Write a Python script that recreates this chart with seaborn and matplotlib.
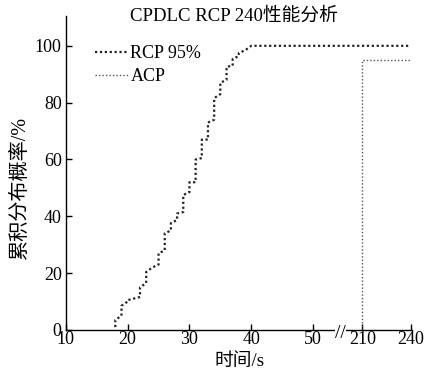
import numpy as np
import pandas as pd
import matplotlib
matplotlib.use("Agg")
import matplotlib.pyplot as plt
import seaborn as sns

# ----- Data -----
rcp_time = [18, 19, 20, 22, 23, 24, 25, 26, 27, 28, 29, 30, 31, 32, 33, 34, 35, 36, 37, 38, 39, 40]
rcp_low = [1, 5, 10, 11.6, 16.5, 22, 23, 28, 35, 38.7, 41.5, 48.5, 52, 60.5, 67, 74, 83, 88, 93, 96.4, 98.4, 100]
rcp_high = [3.5, 8.5, 10.5, 15, 20.4, 22, 27, 34, 37.6, 41, 47.5, 52, 60, 67, 73, 81.6, 87, 92.6, 95.4, 97.5, 98.4, 100]
rcp_tail_time = [50, 210, 240]
rcp_tail_val = [100, 100, 100]

acp_time = [210, 210, 240]
acp_val = [0, 95, 95]

xticks = [10, 20, 30, 40, 50, 210, 240]
yticks = [0, 20, 40, 60, 80, 100]

title = "CPDLC RCP 240性能分析"
xlabel = "时间/s"
ylabel = "累积分布概率/%"

# ----- Style -----
sns.set_style("ticks", {"text.color": "black", "axes.labelcolor": "black",
                        "xtick.color": "black", "ytick.color": "black",
                        "axes.edgecolor": "black"})
fonts = ["Liberation Serif", "Noto Sans CJK SC"]
plt.rcParams["font.family"] = fonts
plt.rcParams["font.size"] = 13


# broken x axis: 10-55 linear, 55-210 squeezed, 210-240 compressed
def fwd(x):
    x = np.asarray(x, dtype=float)
    return np.where(x <= 55, x,
                    np.where(x <= 210, 55 + (x - 55) * 3 / 155, 58 + (x - 210) * 7.8 / 30))


def inv(y):
    y = np.asarray(y, dtype=float)
    return np.where(y <= 55, y,
                    np.where(y <= 58, 55 + (y - 55) * 155 / 3, 210 + (y - 58) * 30 / 7.8))


# RCP step curve: vertical segment at each second
rx, ry = [], []
for t, lo, hi in zip(rcp_time, rcp_low, rcp_high):
    rx += [t, t]
    ry += [lo, hi]
rx += rcp_tail_time
ry += rcp_tail_val
rcp = pd.DataFrame({"t": rx, "p": ry})
acp = pd.DataFrame({"t": acp_time, "p": acp_val})

fig = plt.figure(figsize=(4.25, 3.72), dpi=100)
ax = fig.add_axes([0.155, 0.113, 0.815, 0.844])
ax.set_xscale("function", functions=(fwd, inv))

sns.lineplot(data=rcp, x="t", y="p", estimator=None, sort=False, ax=ax,
             color="#222222", linestyle=(0, (1, 1.2)), linewidth=1.6, label="RCP 95%")
sns.lineplot(data=acp, x="t", y="p", estimator=None, sort=False, ax=ax,
             color="#555555", linestyle=(0, (1, 1.5)), linewidth=1.0, label="ACP")

ymax = 110.5
ax.set_xlim(10, 241)
ax.set_ylim(0, ymax)
ax.set_xticks(xticks)
ax.set_xticklabels([str(v) for v in xticks])
ax.set_yticks(yticks)
ax.tick_params(direction="in", length=4, width=1, labelsize=13)
ax.tick_params(axis="x", pad=1)
ax.tick_params(axis="y", pad=3)
for s in ["top", "right"]:
    ax.spines[s].set_visible(False)
for s in ["left", "bottom"]:
    ax.spines[s].set_linewidth(1)

# break mark on the x axis
ax.text(54.5, -0.01, "//", transform=ax.get_xaxis_transform(), ha="center", va="center",
        fontsize=14, family=fonts, bbox=dict(facecolor="white", edgecolor="none", pad=0.2),
        clip_on=False, zorder=5)

ax.set_xlabel(xlabel, fontsize=13.5, labelpad=3)
ax.set_ylabel(ylabel, fontsize=14.5)
ax.yaxis.set_label_coords(-0.105, 50 / ymax)
fig.text(0.55, 0.958, title, ha="center", va="center", fontsize=13.5)

leg = ax.legend(loc="upper left", bbox_to_anchor=(0.038, 0.958), frameon=False,
                handlelength=1.8, handletextpad=0.15, labelspacing=0.3, fontsize=13)

plt.savefig("out.png", dpi=100)
